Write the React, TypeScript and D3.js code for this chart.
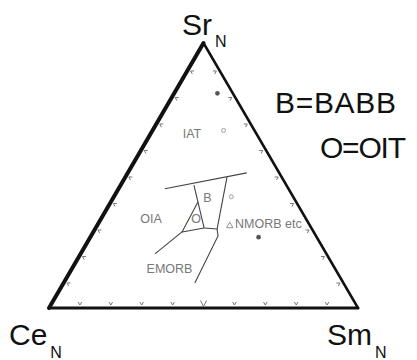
import React from 'react';
import * as d3 from 'd3';

// ternary values are [Ce, Sr, Sm] in percent
type Tern = [number, number, number];

const vertexNames = ['Ce', 'Sr', 'Sm'];
const tickFractions = [0.1, 0.2, 0.3, 0.4, 0.5, 0.6, 0.7, 0.8, 0.9];

const openCircles: Tern[] = [[10, 67, 23], [20, 42, 38]];
const filledDots: Tern[] = [[5, 81, 14], [19, 27, 55]];
const openTriangles: Tern[] = [[26, 31, 43]];

// field boundaries
const fieldLines: Tern[][] = [
  [[40, 45, 15], [10.5, 51, 38.5]],
  [[29.9, 46.4, 23.7], [34.7, 30.2, 35.1]],
  [[17.7, 49.4, 32.9], [30.7, 29.8, 39.5], [31.7, 27.2, 41.1], [48.1, 9.4, 42.5]],
  [[34.7, 30.2, 35.1], [30.7, 29.8, 39.5]],
  [[31.8, 40, 28.2], [42.6, 28.7, 28.7], [34.7, 30.2, 35.1]],
  [[42.6, 28.7, 28.7], [55.5, 20.4, 24.1]],
];

const fieldLabels: { text: string; at: Tern; anchor: string }[] = [
  { text: 'IAT', at: [21.7, 64.2, 14.2], anchor: 'middle' },
  { text: 'OIA', at: [50.9, 32.1, 17.0], anchor: 'middle' },
  { text: 'EMORB', at: [54.4, 13.2, 32.4], anchor: 'middle' },
  { text: 'B', at: [28.7, 40, 31.3], anchor: 'middle' },
  { text: 'O', at: [36.3, 32.1, 31.6], anchor: 'middle' },
  { text: 'NMORB etc', at: [24.7, 30.2, 45.1], anchor: 'start' },
];

const legendLines = ['B=BABB', 'O=OIT'];

const xScale = d3.scaleLinear().domain([0, 1]).range([49, 358]);
const yScale = d3.scaleLinear().domain([0, 1]).range([308, 43]);

function project(t: Tern): [number, number] {
  const s = t[0] + t[1] + t[2];
  const sr = t[1] / s;
  const sm = t[2] / s;
  return [xScale(sm + sr / 2), yScale(sr)];
}

const corners: Tern[] = [[100, 0, 0], [0, 100, 0], [0, 0, 100]];
const P = corners.map(project);
const centroid = project([1, 1, 1]);

// edges: Ce->Sr (left), Ce->Sm (bottom), Sm->Sr (right)
const edges = [
  { a: P[0], b: P[1], w: 4 },
  { a: P[0], b: P[2], w: 3 },
  { a: P[2], b: P[1], w: 2.5 },
];

function chevron(a: [number, number], b: [number, number], t: number, big: boolean) {
  const dx = b[0] - a[0], dy = b[1] - a[1];
  const L = Math.hypot(dx, dy);
  const ux = dx / L, uy = dy / L;
  let nx = -uy, ny = ux;
  const px = a[0] + dx * t, py = a[1] + dy * t;
  if ((centroid[0] - px) * nx + (centroid[1] - py) * ny < 0) { nx = -nx; ny = -ny; }
  const gap = big ? 1.5 : 3;
  const len = big ? 6 : 3;
  const half = big ? 3 : 1.8;
  const ax = px + nx * gap, ay = py + ny * gap;
  const p = d3.path();
  p.moveTo(ax + nx * len - ux * half, ay + ny * len - uy * half);
  p.lineTo(ax, ay);
  p.lineTo(ax + nx * len + ux * half, ay + ny * len + uy * half);
  return p.toString();
}

const line = d3.line<Tern>().x(d => project(d)[0]).y(d => project(d)[1]);
const tri = d3.symbol().type(d3.symbolTriangle).size(18);

export default function App() {
  const font = '"Liberation Sans", Arial, sans-serif';
  return (
    <svg width={417} height={360} style={{ display: 'block', position: 'absolute', left: 0, top: 0 }}>
      <rect x={0} y={0} width={417} height={360} fill="#fff" />
      {fieldLines.map((pts, i) => (
        <path key={i} d={line(pts) || ''} fill="none" stroke="#444" strokeWidth={1.1} />
      ))}
      {edges.map((e, i) => (
        <line key={i} x1={e.a[0]} y1={e.a[1]} x2={e.b[0]} y2={e.b[1]} stroke="#111" strokeWidth={e.w} strokeLinecap="round" />
      ))}
      {edges.map((e, i) =>
        tickFractions.map(t => (
          <path key={i + '-' + t} d={chevron(e.a, e.b, t, i === 1 && t === 0.5)} fill="none" stroke="#666" strokeWidth={0.9} />
        ))
      )}
      {openCircles.map((d, i) => {
        const [x, y] = project(d);
        return <circle key={i} cx={x} cy={y} r={2} fill="none" stroke="#888" strokeWidth={0.8} />;
      })}
      {filledDots.map((d, i) => {
        const [x, y] = project(d);
        return <circle key={i} cx={x} cy={y} r={2.3} fill="#555" />;
      })}
      {openTriangles.map((d, i) => {
        const [x, y] = project(d);
        return <path key={i} d={tri() || ''} transform={`translate(${x},${y})`} fill="none" stroke="#777" strokeWidth={0.8} />;
      })}
      {fieldLabels.map((l, i) => {
        const [x, y] = project(l.at);
        return (
          <text key={i} x={x} y={y} textAnchor={l.anchor} fontFamily={font} fontSize={12.5} fill="#777">{l.text}</text>
        );
      })}
      {/* vertex labels */}
      <text x={182} y={35} fontFamily={font} fontSize={30} fill="#111">{vertexNames[1]}<tspan dx={3} dy={12} fontSize={16}>N</tspan></text>
      <text x={9} y={345} fontFamily={font} fontSize={30} fill="#111">{vertexNames[0]}<tspan dx={3} dy={13} fontSize={16}>N</tspan></text>
      <text x={327} y={345} fontFamily={font} fontSize={30} fill="#111">{vertexNames[2]}<tspan dx={3} dy={13} fontSize={16}>N</tspan></text>
      <text x={275} y={113} fontFamily={font} fontSize={30} textLength={121} fill="#111">{legendLines[0]}</text>
      <text x={320} y={158} fontFamily={font} fontSize={30} textLength={86} fill="#111">{legendLines[1]}</text>
    </svg>
  );
}
